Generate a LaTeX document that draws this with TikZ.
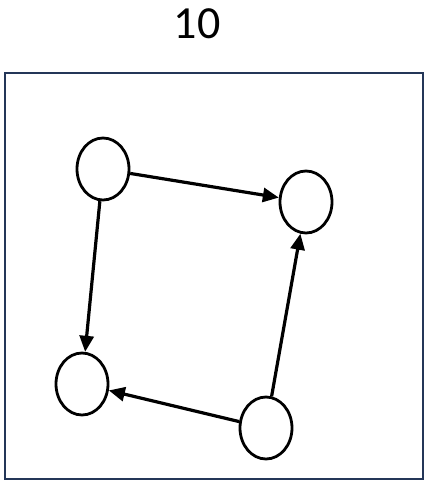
\documentclass[tikz,border=0pt]{standalone}
\usepackage{fontspec}
\setmainfont{Carlito}
\usepackage{tikz}
\usetikzlibrary{shapes.geometric, arrows.meta}
\definecolor{FrameBlue}{RGB}{36, 54, 88}

\begin{document}
\begin{tikzpicture}[x=1pt, y=-1pt,
      vertex/.style={ellipse, draw=black, line width=2.8pt, fill=white, minimum width=52pt, minimum height=62pt, inner sep=0pt},
      link/.style={line width=3.2pt, -{Triangle[length=16pt, width=14pt]}}
    ]
      \useasboundingbox (0,0) rectangle (426,482);
      \node[font=\fontsize{46}{50}\selectfont] (title) at (197,24) {10};
      \draw[draw=FrameBlue, line width=2.2pt] (5,73) rectangle (423,479);

      \node[vertex] (tl) at (103,169) {};
      \node[vertex] (tr) at (306,202) {};
      \node[vertex] (bl) at (82,384) {};
      \node[vertex] (br) at (266,428) {};

      \draw[link] (tl) -- (tr);
      \draw[link] (tl) -- (bl);
      \draw[link] (br) -- (bl);
      \draw[link] (br) -- (tr);
    \end{tikzpicture}
\end{document}
